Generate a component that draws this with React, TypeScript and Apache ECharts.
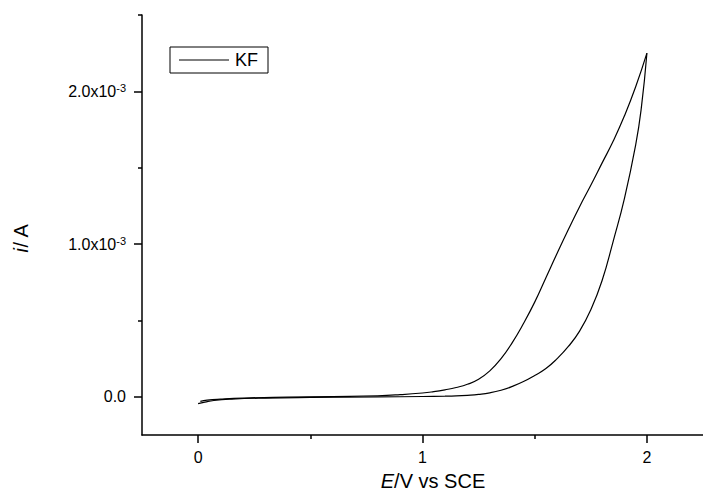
import React, { useEffect, useRef } from "react";
import * as echarts from "echarts";

// Forward (lower) branch, E in V vs SCE, current in units of 1e-3 A
const forwardE = [0.0, 0.03, 0.07, 0.15, 0.3, 0.5, 0.8, 1.0, 1.1, 1.15, 1.2, 1.25, 1.3, 1.35, 1.4, 1.45, 1.5, 1.55, 1.6, 1.65, 1.7, 1.75, 1.8, 1.85, 1.9, 1.95, 1.975, 2.0];
const forwardI = [-0.045, -0.035, -0.024, -0.015, -0.008, -0.004, -0.001, 0.002, 0.004, 0.006, 0.01, 0.016, 0.026, 0.043, 0.068, 0.1, 0.14, 0.185, 0.25, 0.33, 0.43, 0.57, 0.76, 1.02, 1.3, 1.65, 1.89, 2.25];

// Reverse (upper) branch
const reverseE = [2.0, 1.95, 1.9, 1.85, 1.8, 1.75, 1.7, 1.65, 1.6, 1.55, 1.5, 1.45, 1.4, 1.35, 1.3, 1.25, 1.2, 1.15, 1.1, 1.05, 1.0, 0.9, 0.8, 0.6, 0.4, 0.2, 0.1, 0.04, 0.01];
const reverseI = [2.25, 2.03, 1.84, 1.675, 1.53, 1.385, 1.245, 1.095, 0.94, 0.78, 0.62, 0.48, 0.355, 0.25, 0.17, 0.115, 0.082, 0.061, 0.046, 0.034, 0.025, 0.014, 0.007, 0.002, -0.002, -0.008, -0.015, -0.022, -0.03];

const xMajorTicks = [0, 1, 2];
const xMinorTicks = [0.5, 1.5];
const yMajorTicks = [0, 1, 2];
const yMinorTicks = [0.5, 1.5, 2.5];
const seriesName = "KF";

const FONT = "Liberation Sans, Arial, sans-serif";

export default function App() {
  const ref = useRef<HTMLDivElement>(null);
  useEffect(() => {
    if (!ref.current) return;
    const chart = echarts.init(ref.current, undefined, { renderer: "svg" });
    const fwd = forwardE.map((e, k) => [e, forwardI[k]]);
    const rev = reverseE.map((e, k) => [e, reverseI[k]]);
    const lineStyle = { color: "#000", width: 1.2 };
    chart.setOption({
      animation: false,
      backgroundColor: "#fff",
      textStyle: { fontFamily: FONT, color: "#000" },
      grid: { left: 142, top: 15, width: 567.5, height: 420, containLabel: false },
      legend: {
        left: 170,
        top: 47,
        orient: "horizontal",
        data: [{ name: seriesName, icon: "rect" }],
        itemWidth: 50,
        itemHeight: 1.2,
        itemGap: 0,
        padding: [4, 10, 4, 9],
        borderColor: "#000",
        borderWidth: 1,
        textStyle: { fontSize: 18, fontFamily: FONT, color: "#000", padding: [0, 0, 0, 1] },
        itemStyle: { color: "#000" },
      },
      xAxis: [
        {
          type: "value",
          min: -0.25,
          max: 2.25,
          axisLine: { show: true, onZero: false, lineStyle: { color: "#000", width: 1.5 } },
          axisTick: { show: true, customValues: xMajorTicks, length: 8, lineStyle: { color: "#000", width: 1.5 } },
          axisLabel: { customValues: xMajorTicks, fontSize: 16, color: "#000", fontFamily: FONT, margin: 14, formatter: (v: number) => String(v) },
          splitLine: { show: false },
        },
        {
          type: "value",
          position: "bottom",
          min: -0.25,
          max: 2.25,
          axisLine: { show: false, onZero: false },
          axisTick: { show: true, customValues: xMinorTicks, length: 4, lineStyle: { color: "#000", width: 1.5 } },
          axisLabel: { show: false },
          splitLine: { show: false },
        },
      ],
      yAxis: [
        {
          type: "value",
          min: -0.25,
          max: 2.5,
          axisLine: { show: true, onZero: false, lineStyle: { color: "#000", width: 1.5 } },
          axisTick: { show: true, customValues: yMajorTicks, length: 8, lineStyle: { color: "#000", width: 1.5 } },
          axisLabel: {
            customValues: yMajorTicks,
            margin: 16,
            formatter: (v: number) => (v === 0 ? "{a|0.0}" : `{a|${v.toFixed(1)}x10}{s|-3}`),
            rich: {
              a: { fontSize: 16, fontFamily: FONT, color: "#000", lineHeight: 18 },
              s: { fontSize: 11, fontFamily: FONT, color: "#000", verticalAlign: "top", lineHeight: 18 },
            },
          },
          splitLine: { show: false },
        },
        {
          type: "value",
          position: "left",
          min: -0.25,
          max: 2.5,
          axisLine: { show: false, onZero: false },
          axisTick: { show: true, customValues: yMinorTicks, length: 4, lineStyle: { color: "#000", width: 1.5 } },
          axisLabel: { show: false },
          splitLine: { show: false },
        },
      ],
      graphic: [
        {
          type: "text",
          x: 21,
          y: 238,
          rotation: Math.PI / 2,
          style: {
            text: "{i|i}/ A",
            align: "center",
            verticalAlign: "middle",
            fontSize: 20,
            fontFamily: FONT,
            fill: "#000",
            rich: { i: { fontStyle: "italic", fontSize: 20, fontFamily: FONT, fill: "#000" } },
          },
        },
        {
          type: "text",
          x: 433,
          y: 481,
          style: {
            text: "{i|E}/V vs SCE",
            align: "center",
            verticalAlign: "middle",
            fontSize: 20,
            fontFamily: FONT,
            fill: "#000",
            rich: { i: { fontStyle: "italic", fontSize: 20, fontFamily: FONT, fill: "#000" } },
          },
        },
      ],
      series: [
        { name: seriesName, type: "line", data: fwd, smooth: 0.5, showSymbol: false, lineStyle, itemStyle: { color: "#000" } },
        { name: seriesName, type: "line", data: rev, smooth: 0.5, showSymbol: false, lineStyle, itemStyle: { color: "#000" } },
      ],
    });
    return () => chart.dispose();
  }, []);
  return <div ref={ref} style={{ position: "fixed", left: 0, top: 0, width: 703, height: 496 }} />;
}
